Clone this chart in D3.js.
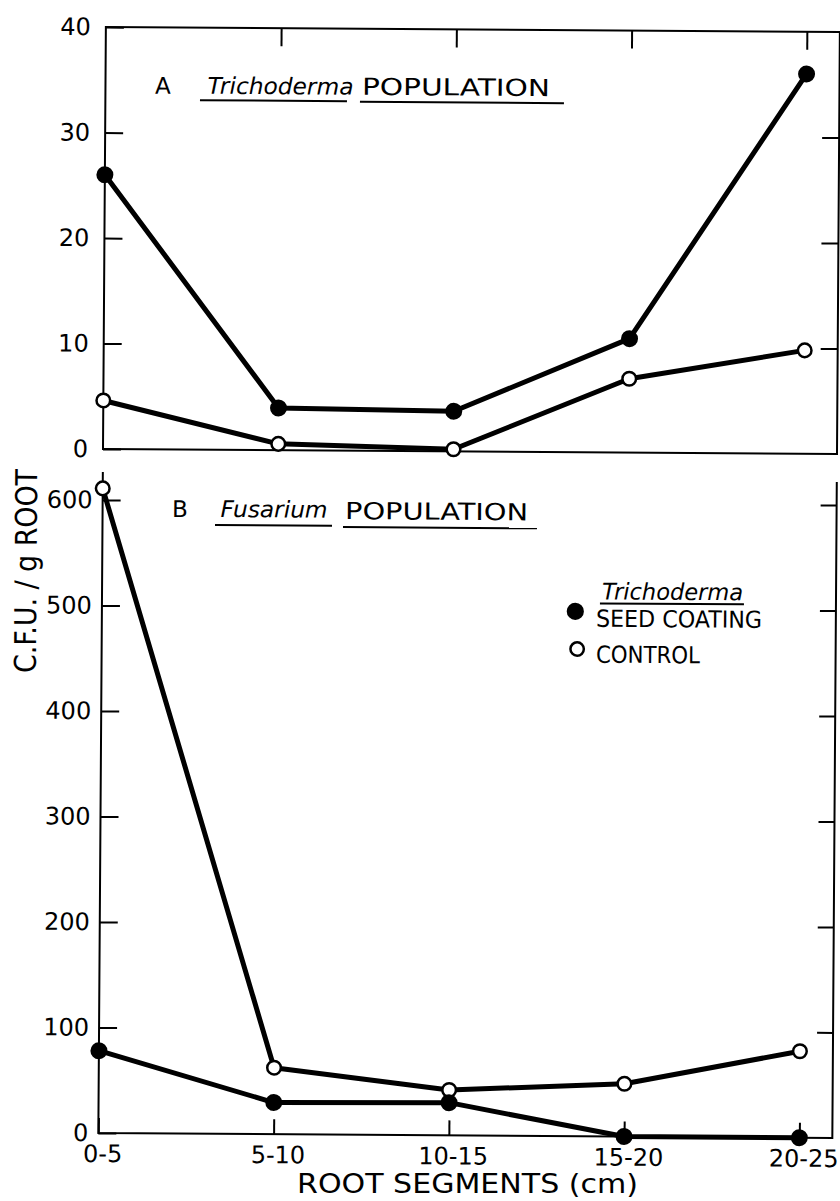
<!DOCTYPE html>
<html>
<head>
<meta charset="utf-8">
<script src="https://cdn.jsdelivr.net/npm/d3@7"></script>
<style>
  body { margin: 0; background: #fff; }
  svg { display: block; background: #fff; }
</style>
</head>
<body>
<script>
var width = 840,
    height = 1201;

// data
var segments = ["0-5", "5-10", "10-15", "15-20", "20-25"];
// A  Trichoderma population
var trichoCoated = [26, 4, 3.8, 10.8, 36];
var trichoControl = [4.6, 0.6, 0.2, 7, 9.8];
// B  Fusarium population
var fusCoated = [78, 30, 31, 0, 0];
var fusControl = [611, 63, 43, 50, 82];

var ticksA = [0, 10, 20, 30, 40];
var ticksB = [0, 100, 200, 300, 400, 500, 600];

var font = "'DejaVu Sans', sans-serif";

var svg = d3.select("body").append("svg")
    .attr("width", width)
    .attr("height", height);

// the scanned page sits a little crooked, so tilt everything slightly
var g = svg.append("g").attr("transform", "rotate(0.39,103,449)");

var left = 103, right = 837;

var x = d3.scalePoint().domain(segments).range([103, 804]);
var yA = d3.scaleLinear().domain([0, 40]).range([449, 27]);
var yB = d3.scaleLinear().domain([0, 600]).range([1133, 500]);

function styleAxis(sel, size) {
    sel.select(".domain").remove();
    sel.selectAll(".tick line").attr("stroke", "#000").attr("stroke-width", 2);
    sel.selectAll("text")
        .attr("fill", "#000")
        .attr("font-family", font)
        .attr("font-size", size);
}

// ---- frames
g.append("path")
    .attr("d", "M" + left + "," + yA(0) + "V" + yA(40) + "H" + right + "V" + yA(0) + "Z")
    .attr("fill", "none").attr("stroke", "#000").attr("stroke-width", 2);

g.append("path")
    .attr("d", "M" + left + ",472V" + yB(0) + "H" + right + "V477")
    .attr("fill", "none").attr("stroke", "#000").attr("stroke-width", 2);

// ---- panel A axes
g.append("g")
    .attr("transform", "translate(" + left + ",0)")
    .call(d3.axisLeft(yA).tickValues(ticksA).tickSizeInner(-18).tickSizeOuter(0).tickPadding(15))
    .call(styleAxis, 24);

g.append("g")
    .attr("transform", "translate(" + right + ",0)")
    .call(d3.axisRight(yA).tickValues([10, 20, 30]).tickSizeInner(-17).tickSizeOuter(0).tickFormat(""))
    .call(styleAxis, 24);

g.append("g")
    .attr("transform", "translate(0," + yA(40) + ")")
    .call(d3.axisTop(x).tickValues(segments.slice(1)).tickSizeInner(-18).tickSizeOuter(0).tickFormat(""))
    .call(styleAxis, 24);

// ---- panel B axes
g.append("g")
    .attr("transform", "translate(" + left + ",0)")
    .call(d3.axisLeft(yB).tickValues(ticksB).tickSizeInner(-18).tickSizeOuter(0).tickPadding(10))
    .call(styleAxis, 24);

g.append("g")
    .attr("transform", "translate(" + right + ",0)")
    .call(d3.axisRight(yB).tickValues(ticksB.slice(1)).tickSizeInner(-16).tickSizeOuter(0).tickFormat(""))
    .call(styleAxis, 24);

g.append("g")
    .attr("transform", "translate(0," + yB(0) + ")")
    .call(d3.axisBottom(x).tickSizeInner(-15).tickSizeOuter(0).tickPadding(12))
    .call(styleAxis, 24)
    .call(function(a) { a.selectAll("text").attr("dx", 4); });

// ---- series
function drawSeries(values, y, filled) {
    var line = d3.line()
        .x(function(d, i) { return x(segments[i]); })
        .y(function(d) { return y(d); });

    g.append("path")
        .datum(values)
        .attr("d", line)
        .attr("fill", "none")
        .attr("stroke", "#000")
        .attr("stroke-width", 5)
        .attr("stroke-linejoin", "round");

    g.append("g").selectAll("circle")
        .data(values)
        .join("circle")
        .attr("cx", function(d, i) { return x(segments[i]); })
        .attr("cy", function(d) { return y(d); })
        .attr("r", filled ? 8.5 : 6.8)
        .attr("fill", filled ? "#000" : "#fff")
        .attr("stroke", "#000")
        .attr("stroke-width", filled ? 0 : 2.5);
}

drawSeries(trichoControl, yA, false);
drawSeries(trichoCoated, yA, true);
drawSeries(fusControl, yB, false);
drawSeries(fusCoated, yB, true);

// ---- labels
function label(txt, px, py, size, len, italic) {
    var t = g.append("text")
        .attr("x", px).attr("y", py)
        .attr("font-family", font)
        .attr("font-size", size)
        .attr("fill", "#000")
        .text(txt);
    if (italic) t.attr("font-style", "italic");
    if (len) t.attr("textLength", len).attr("lengthAdjust", "spacingAndGlyphs");
    return t;
}
function underline(x1, x2, py) {
    g.append("line")
        .attr("x1", x1).attr("x2", x2)
        .attr("y1", py).attr("y2", py)
        .attr("stroke", "#000").attr("stroke-width", 2);
}

label("A", 152.5, 93.5, 23);
label("Trichoderma", 205, 93, 23, 146, true);
underline(197.6, 344.6, 99.5);
label("POPULATION", 359.5, 93, 23.5, 188);
underline(357.6, 561.6, 100);

label("B", 172.5, 516.5, 23);
label("Fusarium", 221, 516.2, 23, 107, true);
underline(215.5, 332.5, 524.2);
label("POPULATION", 345.5, 517.4, 23.5, 183);
underline(343.5, 537.5, 525.4);

// legend
label("Trichoderma", 603, 596, 23, 141, true);
underline(601, 745, 600);
g.append("circle").attr("cx", 576.4).attr("cy", 608.1).attr("r", 8.6).attr("fill", "#000");
label("SEED COATING", 597.2, 623.4, 23.5, 166);
g.append("circle").attr("cx", 578.5).attr("cy", 645.8).attr("r", 6.7)
    .attr("fill", "#fff").attr("stroke", "#000").attr("stroke-width", 2.5);
label("CONTROL", 597.4, 659.3, 23.5, 104);

// axis titles
g.append("text")
    .attr("transform", "translate(37.3,571.5) rotate(-90)")
    .attr("text-anchor", "middle")
    .attr("font-family", font)
    .attr("font-size", 30)
    .attr("fill", "#000")
    .attr("textLength", 204)
    .attr("lengthAdjust", "spacingAndGlyphs")
    .text("C.F.U. / g ROOT");

// x title kept outside the tilted group so it stays on the page
svg.append("text")
    .attr("x", 297).attr("y", 1193)
    .attr("font-family", font)
    .attr("font-size", 27)
    .attr("fill", "#000")
    .attr("textLength", 341)
    .attr("lengthAdjust", "spacingAndGlyphs")
    .text("ROOT  SEGMENTS  (cm)");
</script>
</body>
</html>
